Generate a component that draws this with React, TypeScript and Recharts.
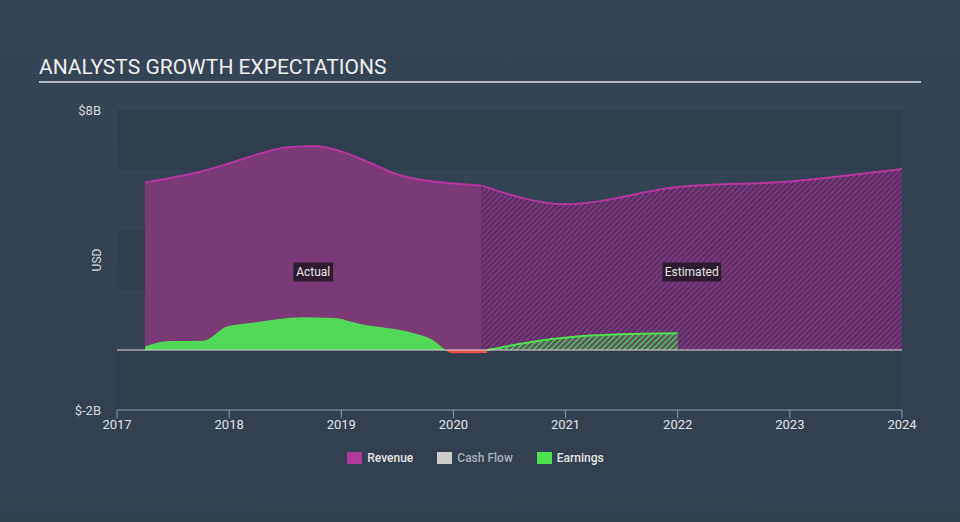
import React from 'react';
import { ComposedChart, Area, XAxis, YAxis, ReferenceArea, ReferenceLine, ReferenceDot } from 'recharts';

// ---- data (USD billions) ----
const revenueActualYears = [2017.25, 2017.5, 2017.75, 2018, 2018.25, 2018.5, 2018.75, 2019, 2019.25, 2019.5, 2019.75, 2020, 2020.25];
const revenueActualValues = [5.58, 5.75, 5.95, 6.22, 6.52, 6.75, 6.8, 6.62, 6.25, 5.85, 5.65, 5.55, 5.48];

const revenueEstimateYears = [2020.25, 2021, 2022, 2023, 2024];
const revenueEstimateValues = [5.48, 4.86, 5.43, 5.62, 6.03];

const earningsActualYears = [2017.25, 2017.47, 2017.77, 2017.98, 2018.21, 2018.66, 2018.93, 2019.17, 2019.64, 2019.8, 2020.0, 2020.3];
const earningsActualValues = [0.12, 0.3, 0.31, 0.78, 0.91, 1.09, 1.07, 0.87, 0.57, 0.37, -0.11, -0.1];

const earningsEstimateYears = [2020.3, 2020.77, 2021.22, 2021.66, 2022];
const earningsEstimateValues = [0, 0.31, 0.48, 0.54, 0.56];

const yearTicks = [2017, 2018, 2019, 2020, 2021, 2022, 2023, 2024];
const valueTicks = [-2, 8];
const darkBands = [[6, 8], [2, 4], [-2, 0]];
const lightBands = [[4, 6], [0, 2]];

const regionLabels = [
  { text: 'Actual', from: 2017.25, to: 2020.25, y: 2.6 },
  { text: 'Estimated', from: 2020.25, to: 2024, y: 2.6 },
];

const legendItems = [
  { name: 'Revenue', color: '#b0399c', text: '#e4e4e4' },
  { name: 'Cash Flow', color: '#cccccc', text: '#a9b0b8' },
  { name: 'Earnings', color: '#4fe150', text: '#e4e4e4' },
];

const toRows = (xs: number[], vs: number[]) => xs.map((x, i) => ({ year: x, value: vs[i] }));

const revenueActual = toRows(revenueActualYears, revenueActualValues);
const revenueEstimate = toRows(revenueEstimateYears, revenueEstimateValues);
const earningsActual = toRows(earningsActualYears, earningsActualValues);
const earningsEstimate = toRows(earningsEstimateYears, earningsEstimateValues);

const eMax = Math.max(...earningsActualValues);
const eMin = Math.min(...earningsActualValues, 0);
const zeroOffset = eMax / (eMax - eMin);

const FONT = 'Roboto, "Noto Sans", sans-serif';

const RegionLabel = (props: any) => {
  const { viewBox, value } = props;
  const w = value.length * 6.3 + 2;
  const h = 19;
  const cx = viewBox.x + viewBox.width / 2;
  const cy = viewBox.y + viewBox.height / 2;
  return (
    <g>
      <rect x={cx - w / 2} y={cy - h / 2} width={w} height={h} fill="#261828" fillOpacity={0.9} />
      <text x={cx} y={cy} textAnchor="middle" dominantBaseline="central" fill="#e8e8e8" fontSize={12} fontFamily={FONT}>
        {value}
      </text>
    </g>
  );
};

const UsdLabel = (props: any) => {
  const { viewBox } = props;
  const x = viewBox.x + viewBox.width - 20;
  const y = viewBox.y + viewBox.height / 2;
  return (
    <text x={x} y={y} transform={`rotate(-90 ${x} ${y})`} textAnchor="middle" dominantBaseline="central" fill="#d4d8dc" fontSize={12} fontFamily={FONT}>
      USD
    </text>
  );
};

export default function App() {
  return (
    <div
      style={{
        position: 'fixed',
        left: 0,
        top: 0,
        width: 960,
        height: 522,
        background: 'linear-gradient(180deg, #354556 0%, #313f4f 100%)',
        fontFamily: FONT,
        overflow: 'hidden',
      }}
    >
      <div
        style={{
          position: 'absolute',
          left: 39,
          top: 55,
          fontSize: 21,
          color: '#f0f0f0',
          letterSpacing: 0,
          lineHeight: '25px',
          whiteSpace: 'nowrap',
        }}
      >
        ANALYSTS GROWTH EXPECTATIONS
      </div>
      <div style={{ position: 'absolute', left: 39, top: 81, width: 882, height: 1.5, background: '#b4bac2' }} />

      <div style={{ position: 'absolute', left: 0, top: 0 }}>
        <ComposedChart width={960} height={522} margin={{ top: 110, right: 58, bottom: 82, left: 0 }}>
          <defs>
            <linearGradient id="earnSplit" x1="0" y1="0" x2="0" y2="1">
              <stop offset={zeroOffset} stopColor="#52d957" />
              <stop offset={zeroOffset} stopColor="#e8504f" />
            </linearGradient>
            <pattern id="revHatch" width="4" height="4" patternUnits="userSpaceOnUse" patternTransform="rotate(45)">
              <rect width="4" height="4" fill="#5a3163" />
              <line x1="0" y1="0" x2="0" y2="4" stroke="#9a3793" strokeWidth="2" />
            </pattern>
            <pattern id="earnHatch" width="4" height="4" patternUnits="userSpaceOnUse" patternTransform="rotate(45)">
              <rect width="4" height="4" fill="#52d957" fillOpacity={0.25} />
              <line x1="0" y1="0" x2="0" y2="4" stroke="#52d957" strokeWidth="2.2" />
            </pattern>
          </defs>

          {darkBands.map((b, i) => (
            <ReferenceArea key={`d${i}`} y1={b[0]} y2={b[1]} fill="#2f3d4c" fillOpacity={1} stroke="none" />
          ))}
          {lightBands.map((b, i) => (
            <ReferenceArea key={`l${i}`} y1={b[0]} y2={b[1]} fill="#344354" fillOpacity={1} stroke="none" />
          ))}

          <XAxis
            dataKey="year"
            type="number"
            domain={[2017, 2024]}
            ticks={yearTicks}
            allowDataOverflow
            height={30}
            tickSize={8}
            tickMargin={2}
            stroke="#8f9bab"
            tick={{ fill: '#e2e4e6', fontSize: 13, fontFamily: FONT }}
            tickLine={{ stroke: '#8f9bab' }}
            axisLine={{ stroke: '#8f9bab' }}
          />
          <YAxis
            type="number"
            domain={[-2, 8]}
            ticks={valueTicks}
            width={117}
            axisLine={false}
            tickLine={false}
            tickMargin={10}
            tickFormatter={(v: number) => `$${v}B`}
            tick={{ fill: '#d4d8dc', fontSize: 13, fontFamily: FONT }}
            label={<UsdLabel />}
          />

          <Area
            data={revenueActual}
            dataKey="value"
            type="monotone"
            stroke="#b5379f"
            strokeWidth={2}
            fill="#7b3a75"
            fillOpacity={1}
            isAnimationActive={false}
            dot={false}
            activeDot={false}
          />
          <Area
            data={revenueEstimate}
            dataKey="value"
            type="monotone"
            stroke="#b5379f"
            strokeWidth={2}
            fill="url(#revHatch)"
            fillOpacity={1}
            isAnimationActive={false}
            dot={false}
            activeDot={false}
          />
          <Area
            data={earningsActual}
            dataKey="value"
            type="monotone"
            stroke="none"
            fill="url(#earnSplit)"
            fillOpacity={1}
            isAnimationActive={false}
            dot={false}
            activeDot={false}
          />
          <Area
            data={earningsEstimate}
            dataKey="value"
            type="monotone"
            stroke="#4fe150"
            strokeWidth={2}
            fill="url(#earnHatch)"
            fillOpacity={1}
            isAnimationActive={false}
            dot={false}
            activeDot={false}
          />

          <ReferenceLine y={0} stroke="#e2ddd6" strokeWidth={1} />

          {regionLabels.map((r) => (
            <ReferenceDot
              key={r.text}
              x={(r.from + r.to) / 2}
              y={r.y}
              r={0}
              fill="none"
              stroke="none"
              label={<RegionLabel value={r.text} />}
            />
          ))}
        </ComposedChart>
      </div>

      <div
        style={{
          position: 'absolute',
          top: 451,
          left: 3,
          width: 945,
          display: 'flex',
          justifyContent: 'center',
          gap: 24,
          fontSize: 12,
          fontWeight: 500,
        }}
      >
        {legendItems.map((it) => (
          <div key={it.name} style={{ display: 'flex', alignItems: 'center', gap: 5 }}>
            <div style={{ width: 15, height: 12, background: it.color }} />
            <span style={{ color: it.text, lineHeight: '14px' }}>{it.name}</span>
          </div>
        ))}
      </div>
    </div>
  );
}
